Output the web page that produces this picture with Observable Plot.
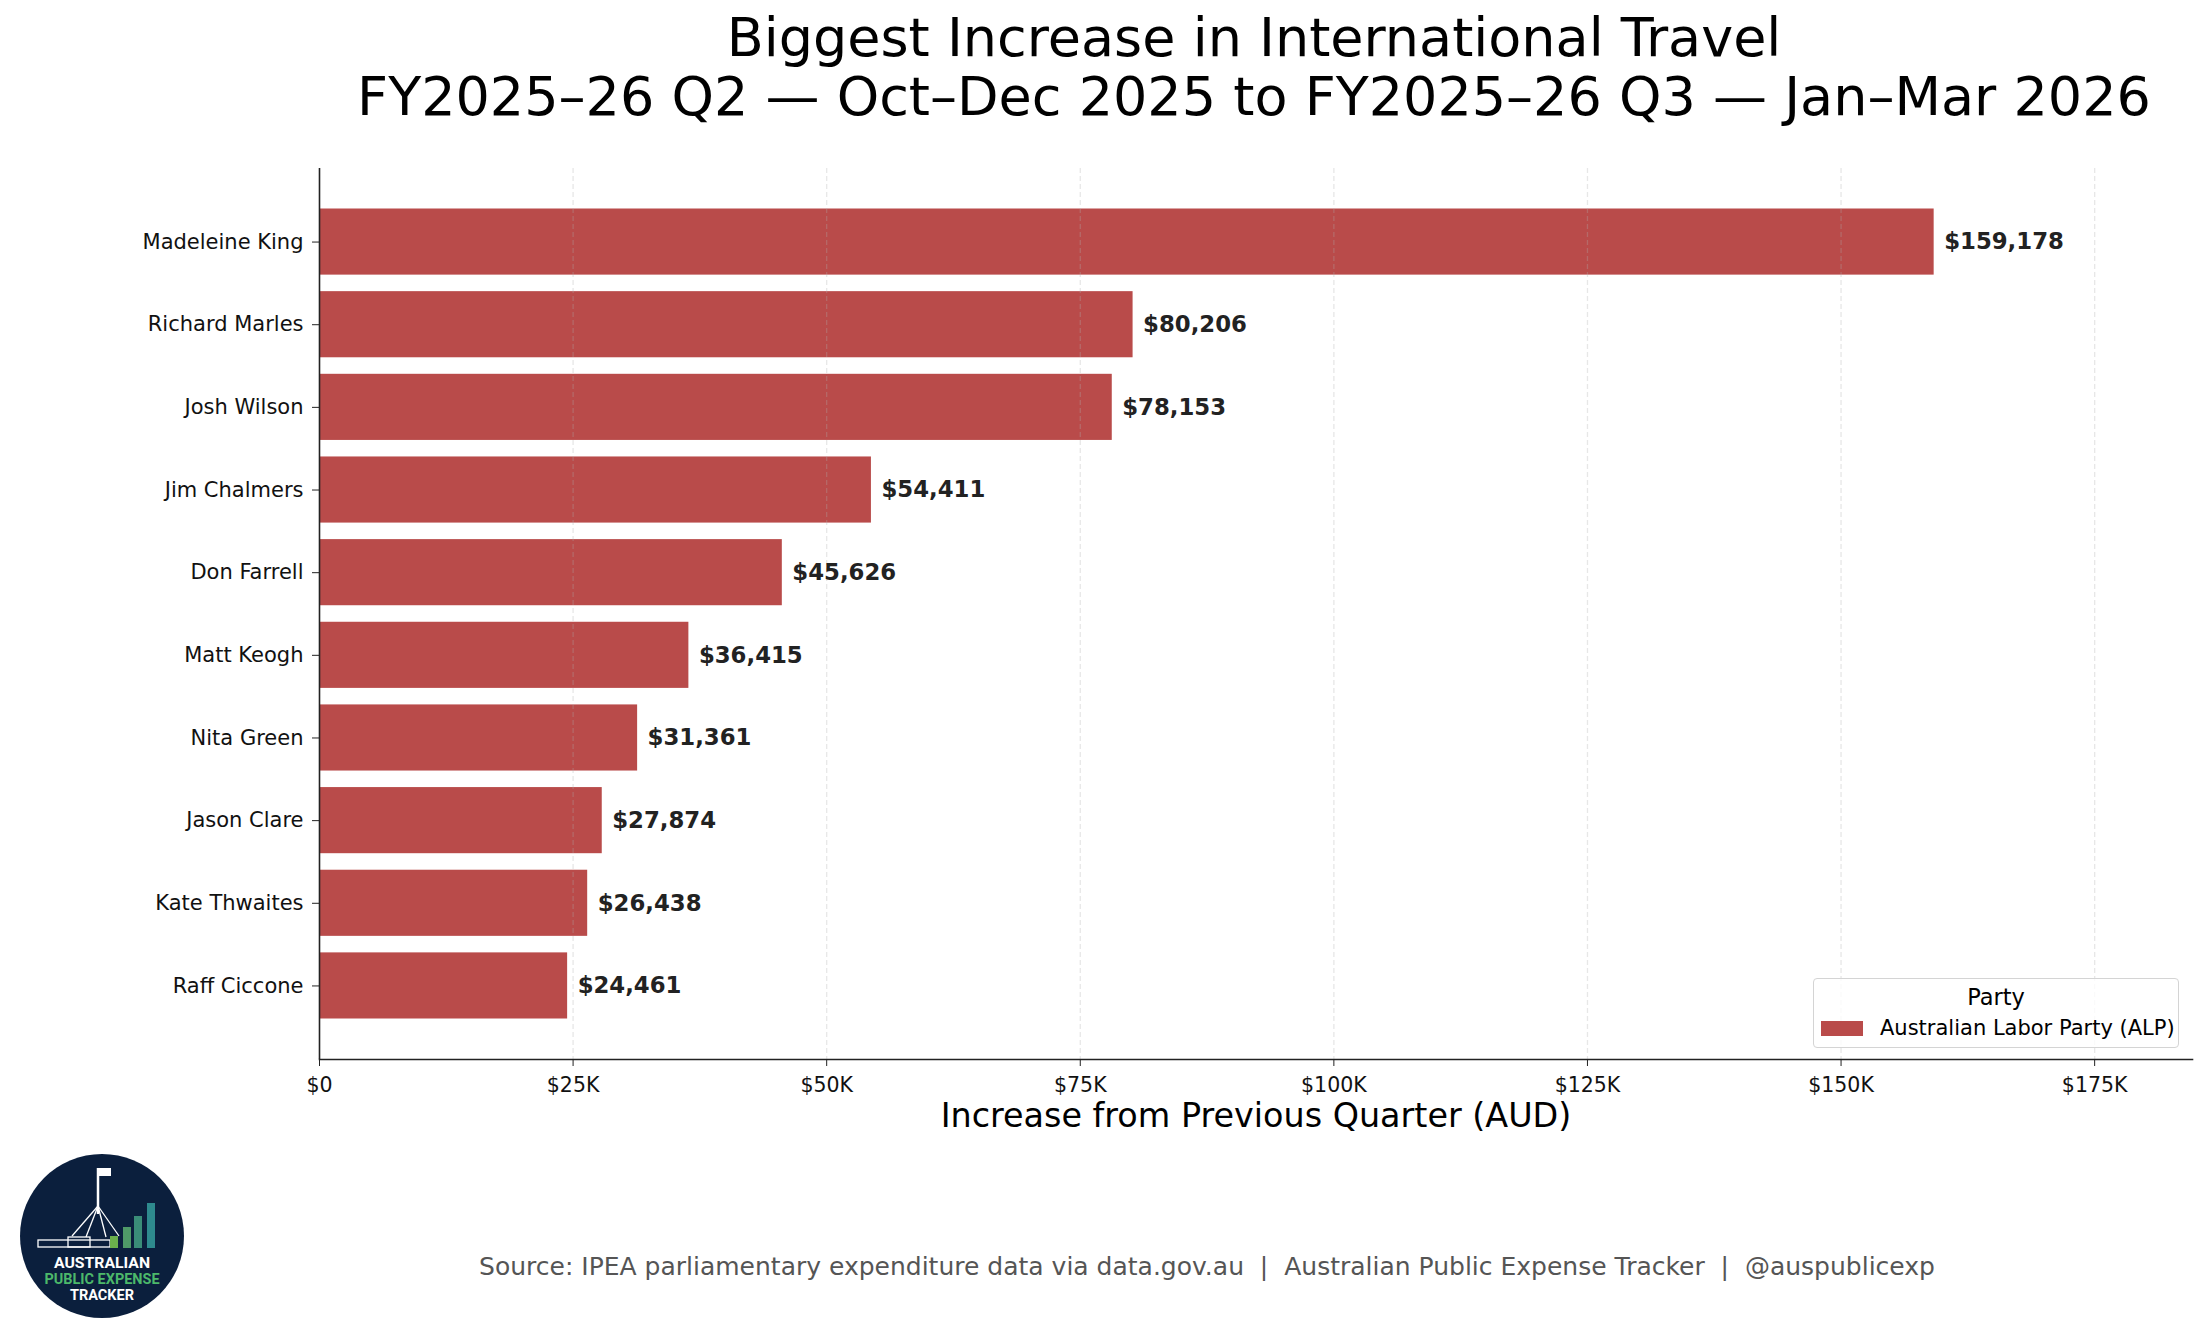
<!DOCTYPE html>
<html>
<head>
<meta charset="utf-8">
<script src="https://cdn.jsdelivr.net/npm/d3@7"></script>
<script src="https://cdn.jsdelivr.net/npm/@observablehq/plot@0.6"></script>
<style>
  body { margin: 0; background: #fff; font-family: "DejaVu Sans", sans-serif; }
  #page { position: relative; width: 2205px; height: 1337px; overflow: hidden; background: #fff; }
  #title { position: absolute; left: 0; top: 8px; width: 2508px; text-align: center; font-size: 54px; line-height: 59px; color: #000; white-space: nowrap; }
  #grafico { position: absolute; left: 0; top: 150px; }
  #legend { position: absolute; left: 1813px; top: 978px; width: 366px; height: 70px; box-sizing: border-box;
            border: 1.5px solid #d4d4d4; border-radius: 4px; background: rgba(255,255,255,0.8); }
  #legend .ttl { position: absolute; left: 0; width: 100%; top: 7px; text-align: center; font-size: 22.5px; line-height: 1; color: #000; }
  #legend .sw { position: absolute; left: 7px; top: 42px; width: 42px; height: 15px; }
  #legend .lbl { position: absolute; left: 66px; top: 39px; font-size: 21px; line-height: 1; color: #000; white-space: nowrap; }
  #source { position: absolute; left: 0; width: 2414px; top: 1254px; text-align: center; font-size: 25px; line-height: 1; color: #555; white-space: pre; }
  #logo { position: absolute; left: 0; top: 1140px; }
</style>
</head>
<body>
<div id="page">
  <div id="title">Biggest Increase in International Travel<br>FY2025–26 Q2 — Oct–Dec 2025 to FY2025–26 Q3 — Jan–Mar 2026</div>
  <div id="grafico"></div>
  <div id="legend"><div class="ttl">Party</div><div class="sw"></div><div class="lbl"></div></div>
  <svg id="logo" width="210" height="197" viewBox="0 1140 210 197">
    <circle cx="102" cy="1236" r="82" fill="#0b1f3d"/>
    <!-- asta y patas -->
    <line x1="98" y1="1168" x2="98" y2="1214" stroke="#fff" stroke-width="2.5"/>
    <rect x="99" y="1168" width="12" height="8" fill="#fff"/>
    <line x1="98" y1="1206" x2="72" y2="1236" stroke="#fff" stroke-width="1.3"/>
    <line x1="98" y1="1206" x2="86" y2="1237" stroke="#fff" stroke-width="1.3"/>
    <line x1="98" y1="1206" x2="106" y2="1237" stroke="#fff" stroke-width="1.3"/>
    <line x1="98" y1="1206" x2="119" y2="1236" stroke="#fff" stroke-width="1.3"/>
    <!-- edificio -->
    <rect x="38" y="1240" width="72" height="7" fill="none" stroke="#fff" stroke-width="1.3"/>
    <rect x="68" y="1237" width="22" height="10" fill="none" stroke="#fff" stroke-width="1.3"/>
    <!-- barras -->
    <rect x="110" y="1236" width="8" height="12" fill="#6ab04c"/>
    <rect x="123" y="1227" width="8" height="21" fill="#4f9a68"/>
    <rect x="134" y="1216" width="8" height="32" fill="#3a8d78"/>
    <rect x="147" y="1203" width="8" height="45" fill="#2e8a8e"/>
    <text x="102" y="1268" text-anchor="middle" font-family="Roboto" font-weight="bold" font-size="14" fill="#fff" textLength="96" lengthAdjust="spacingAndGlyphs">AUSTRALIAN</text>
    <text x="102" y="1284" text-anchor="middle" font-family="Roboto" font-weight="bold" font-size="14" fill="#4cb86a" textLength="115" lengthAdjust="spacingAndGlyphs">PUBLIC EXPENSE</text>
    <text x="102" y="1300" text-anchor="middle" font-family="Roboto" font-weight="bold" font-size="14" fill="#fff" textLength="64" lengthAdjust="spacingAndGlyphs">TRACKER</text>
  </svg>
  <div id="source">Source: IPEA parliamentary expenditure data via data.gov.au  |  Australian Public Expense Tracker  |  @auspublicexp</div>
</div>
<script>
// valores
const names = ["Madeleine King", "Richard Marles", "Josh Wilson", "Jim Chalmers", "Don Farrell",
               "Matt Keogh", "Nita Green", "Jason Clare", "Kate Thwaites", "Raff Ciccone"];
const increases = [159178, 80206, 78153, 54411, 45626, 36415, 31361, 27874, 26438, 24461];
const parties = ["Australian Labor Party (ALP)"];
const partyColors = ["#b94b4a"];
const xTicks = [0, 25000, 50000, 75000, 100000, 125000, 150000, 175000];
const xLabel = "Increase from Previous Quarter (AUD)";

const rows = names.map((n, i) => ({name: n, value: increases[i], party: parties[0]}));
const xMax = d3.max(increases) * 1.16;

document.querySelector("#legend .sw").style.background = partyColors[0];
document.querySelector("#legend .lbl").textContent = parties[0];

const chart = Plot.plot({
  width: 2205,
  height: 1000,
  marginLeft: 319,
  marginRight: 13,
  marginTop: 18,
  marginBottom: 91,
  style: {fontFamily: "DejaVu Sans", background: "transparent", overflow: "visible"},
  x: {domain: [0, xMax]},
  y: {domain: names, paddingInner: 0.2, paddingOuter: 0.49, round: false},
  color: {domain: parties, range: partyColors},
  marks: [
    Plot.barX(rows, {x: "value", y: "name", fill: "party"}),
    Plot.gridX(xTicks.filter(d => d > 0), {stroke: "#b0b0b0", strokeOpacity: 0.3, strokeDasharray: "5,3", strokeWidth: 1.3}),
    Plot.text(rows, {
      x: "value", y: "name", text: d => "$" + d3.format(",")(d.value),
      dx: 10, textAnchor: "start", fontWeight: "bold", fontSize: 22.8, fill: "#222"
    }),
    Plot.ruleX([0], {stroke: "#222", strokeWidth: 1.6}),
    Plot.frame({anchor: "bottom", stroke: "#222", strokeWidth: 1.6}),
    Plot.axisY({tickSize: 7, tickPadding: 9, fontSize: 21, label: null, stroke: "#222", fill: "#111"}),
    Plot.axisX({
      ticks: xTicks, tickSize: 7, tickPadding: 11, fontSize: 20.5, label: null, stroke: "#222", fill: "#111",
      tickFormat: d => d === 0 ? "$0" : "$" + d / 1000 + "K"
    }),
    Plot.text([xLabel], {frameAnchor: "bottom", dy: 57, fontSize: 33.4, lineAnchor: "middle", fill: "#000"})
  ]
});

d3.select('#grafico').append(() => chart);
</script>
</body>
</html>
